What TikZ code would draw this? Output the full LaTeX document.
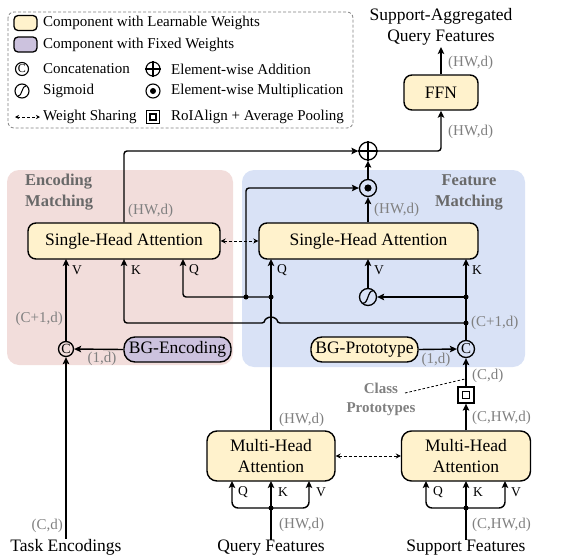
\documentclass[tikz,border=0pt]{standalone}
\usepackage{fontspec}
\setmainfont{Liberation Serif}
\usetikzlibrary{arrows.meta,calc}
\definecolor{learn}{RGB}{255,242,204}
\definecolor{fixedc}{RGB}{204,194,222}
\definecolor{pinkbg}{RGB}{242,221,219}
\definecolor{bluebg}{RGB}{217,226,246}
\definecolor{dimgray}{RGB}{128,128,128}
\definecolor{headgray}{RGB}{105,105,105}
\tikzset{
  box/.style={draw, line width=1.4pt, fill=learn, rounded corners=8pt, inner sep=0pt, align=center, font=\fontsize{17.5}{21}\selectfont},
  fixbox/.style={box, fill=fixedc},
  dim/.style={text=dimgray, inner sep=0pt, font=\fontsize{15}{17}\selectfont},
  qkv/.style={inner sep=0pt, anchor=west, font=\fontsize{13.5}{15}\selectfont},
  lgd/.style={inner sep=0pt, anchor=west, font=\fontsize{15}{17}\selectfont},
  big/.style={inner sep=0pt, align=center, font=\fontsize{17.5}{21}\selectfont},
  head/.style={inner sep=0pt, text=headgray, font=\bfseries\fontsize{16.5}{21}\selectfont},
  arr/.style={-{Stealth[length=7pt,width=6.5pt,inset=1.5pt]}, line width=1.4pt},
  ln/.style={line width=1.4pt},
  share/.style={{Stealth[length=5pt,width=5pt]}-{Stealth[length=5pt,width=5pt]}, dashed, dash pattern=on 3pt off 2pt, line width=0.9pt},
  opc/.style={circle, draw, line width=1.3pt, minimum size=16pt, inner sep=0pt},
  jn/.style={circle, fill=black, minimum size=5pt, inner sep=0pt},
}
\begin{document}
\begin{tikzpicture}[x=1pt,y=-1pt]
\useasboundingbox (0,0) rectangle (563,560);
% ---------- legend ----------
\draw[gray, dashed, dash pattern=on 3pt off 2pt, line width=0.8pt, rounded corners=6pt] (8,12) rectangle (353,128);
\node[draw, line width=1.3pt, fill=learn, rounded corners=4pt, minimum width=23pt, minimum height=15pt, inner sep=0pt] (sw1) at (25.5,23) {};
\node[lgd] (l1) at (43,23) {Component with Learnable Weights};
\node[draw, line width=1.3pt, fill=fixedc, rounded corners=4pt, minimum width=23pt, minimum height=15pt, inner sep=0pt] (sw2) at (25.5,44.5) {};
\node[lgd] (l2) at (43,44.5) {Component with Fixed Weights};
\node[opc, minimum size=13pt, line width=1.1pt, font=\fontsize{12}{12}\selectfont] (lc) at (22,69) {C};
\node[lgd] (l3) at (43,69) {Concatenation};
\node[opc, minimum size=14pt, line width=1.1pt] (lp) at (153,69) {};
\draw[line width=1.1pt] (lp.north) -- (lp.south) (lp.west) -- (lp.east);
\node[lgd] (l4) at (171,69) {Element-wise Addition};
\node[opc, minimum size=14pt, line width=1.1pt] (ls) at (22,91) {};
\draw[line width=1pt] ($(ls)+(-4,5)$) .. controls ($(ls)+(0,6)$) and ($(ls)+(0,-6)$) .. ($(ls)+(4,-5)$);
\node[lgd] (l5) at (43,91) {Sigmoid};
\node[opc, minimum size=14pt, line width=1.1pt] (ld) at (153,91) {};
\fill (ld) circle (3pt);
\node[lgd] (l6) at (171,91) {Element-wise Multiplication};
\coordinate (lsa) at (15,117);
\coordinate (lsb) at (40,117);
\draw[share, {Stealth[length=4pt,width=4pt]}-{Stealth[length=4pt,width=4pt]}] (lsa) -- (lsb);
\node[lgd] (l7) at (43,117) {Weight Sharing};
\node[draw, line width=1.1pt, minimum size=13pt, inner sep=0pt] (lq) at (153,117) {};
\node[draw, line width=1.1pt, minimum size=6pt, inner sep=0pt] at (lq) {};
\node[lgd] (l8) at (171,117) {RoIAlign + Average Pooling};
% ---------- backgrounds ----------
\fill[pinkbg, rounded corners=12pt] (7,170) rectangle (233,365);
\fill[bluebg, rounded corners=12pt] (242,170) rectangle (525,367);
\node[head, anchor=west, align=left] (hEnc) at (25,192.5) {Encoding\\Matching};
\node[head, align=center] (hFeat) at (469,192.5) {Feature\\Matching};
% ---------- boxes ----------
\node[box, minimum width=192pt, minimum height=36pt] (encSHA) at (124,241) {Single-Head Attention};
\node[box, minimum width=219pt, minimum height=36pt] (featSHA) at (368.5,241) {Single-Head Attention};
\node[box, minimum width=74pt, minimum height=35pt] (ffn) at (441,92.5) {FFN};
\node[box, rounded corners=10pt, minimum width=128pt, minimum height=50pt] (mhaq) at (271,456) {Multi-Head\\Attention};
\node[box, rounded corners=10pt, minimum width=129pt, minimum height=50pt] (mhas) at (466,456) {Multi-Head\\Attention};
\node[fixbox, rounded corners=11pt, minimum width=107pt, minimum height=25pt] (bgenc) at (177.5,349.5) {BG-Encoding};
\node[box, rounded corners=11pt, minimum width=107pt, minimum height=25pt] (bgpro) at (364.5,349.5) {BG-Prototype};
% ---------- operators ----------
\node[opc, minimum size=18pt] (plus) at (368,151) {};
\draw[line width=1.3pt] (plus.north) -- (plus.south) (plus.west) -- (plus.east);
\node[opc, minimum size=17pt] (dot) at (368,188) {};
\fill (dot) circle (3.6pt);
\node[opc, minimum size=17pt] (sig) at (368,297) {};
\draw[line width=1.2pt] ($(sig)+(-5,6)$) .. controls ($(sig)+(0,7.5)$) and ($(sig)+(0,-7.5)$) .. ($(sig)+(5,-6)$);
\node[opc, minimum size=15pt, font=\fontsize{14}{14}\selectfont] (cenc) at (66,349) {C};
\node[opc, minimum size=17pt, font=\fontsize{15}{15}\selectfont] (cfeat) at (466,349) {C};
\node[draw, line width=1.3pt, minimum size=16pt, inner sep=0pt] (pool) at (466,395) {};
\node[draw, line width=1.2pt, minimum size=7pt, inner sep=0pt] (poolin) at (pool) {};
% ---------- texts ----------
\node[big] (outTxt) at (441,27) {Support-Aggregated\\Query Features};
\coordinate (outEnd) at (441,47);
\node[big] (taskTxt) at (66,547) {Task Encodings};
\node[big] (queryTxt) at (271,548) {Query Features};
\node[big] (suppTxt) at (466,548) {Support Features};
\node[head, font=\bfseries\fontsize{15}{19}\selectfont, text=dimgray, align=center] (classTxt) at (381,399) {Class\\Prototypes};
% ---------- coordinates ----------
\coordinate (jQa) at (246,297);
\coordinate (jQb) at (271,297);
\coordinate (jK1) at (466,297);
\coordinate (jK2) at (466,323);
\coordinate (jQm) at (271,508);
\coordinate (jSm) at (466,508);
\coordinate (eQ) at (183,259);
\coordinate (eK) at (124,259);
\coordinate (eV) at (66,259);
\coordinate (fQ) at (271,259);
\coordinate (fV) at (368,259);
\coordinate (fK) at (466,259);
\coordinate (mqQ) at (232,481);
\coordinate (mqK) at (271,481);
\coordinate (mqV) at (309,481);
\coordinate (msQ) at (426,481);
\coordinate (msK) at (466,481);
\coordinate (msV) at (505,481);
\coordinate (cpEnd) at (465,379);
% ---------- connectors ----------
\draw[arr, rounded corners=3pt] (encSHA.north) |- (plus.west);
\draw[arr] (dot.north) -- (plus.south);
\draw[arr] (dot.south |- featSHA.north) -- (dot.south);
\draw[arr, rounded corners=3pt] (jQa) |- (dot.west);
\draw[arr, rounded corners=3pt] (plus.east) -| (ffn.south);
\draw[arr] (ffn.north) -- (outEnd);
\draw[share] (encSHA.east) -- (featSHA.west);
\draw[share] (mhaq.east) -- (mhas.west);
% query path
\draw[arr] (mhaq.north) -- (fQ);
\draw[arr, rounded corners=3pt] (jQb) -| (eQ);
\draw[arr] (sig.north) -- (fV);
\draw[arr] (jK1) -- (sig.east);
\draw[arr] (cfeat.north) -- (fK);
\draw[arr, rounded corners=3pt] (jK2) -- (277,323) arc[start angle=0, end angle=180, radius=6pt] -- (124,323) -- (eK);
\draw[arr] (cenc.north) -- (eV);
\draw[arr] (bgenc.west) -- (cenc.east);
\draw[arr] (bgpro.east) -- (cfeat.west);
\draw[arr] (taskTxt.north) -- (cenc.south);
\draw[arr] (mhas.north) -- (pool.south);
\draw[arr] (pool.north) -- (cfeat.south);
\draw[dashed, dash pattern=on 2.5pt off 2pt, line width=0.8pt] (405,393) -- (cpEnd);
% bottom inputs
\draw[ln] (queryTxt.north) -- (jQm);
\draw[arr] (jQm) -- (mqK);
\draw[arr, rounded corners=6pt] (jQm) -| (mqQ);
\draw[arr, rounded corners=6pt] (jQm) -| (mqV);
\draw[ln] (suppTxt.north) -- (jSm);
\draw[arr] (jSm) -- (msK);
\draw[arr, rounded corners=6pt] (jSm) -| (msQ);
\draw[arr, rounded corners=6pt] (jSm) -| (msV);
% junction dots
\foreach \p in {jQa,jQb,jK1,jK2,jQm,jSm} \node[jn] at (\p) {};
% ---------- labels ----------
\node[dim, anchor=west] at (448,63) {(HW,d)};
\node[dim, anchor=west] at (448,132) {(HW,d)};
\node[dim, anchor=west] at (128,211) {(HW,d)};
\node[dim, anchor=west] at (374,210) {(HW,d)};
\node[dim, anchor=east] at (63,319) {(C+1,d)};
\node[dim] at (102,359) {(1,d)};
\node[dim] at (436,360) {(1,d)};
\node[dim, anchor=west] at (471,323) {(C+1,d)};
\node[dim, anchor=west] at (472,376) {(C,d)};
\node[dim, anchor=west] at (279,420) {(HW,d)};
\node[dim, anchor=west] at (472,418) {(C,HW,d)};
\node[dim, anchor=west] at (279,525) {(HW,d)};
\node[dim, anchor=west] at (472,525) {(C,HW,d)};
\node[dim, anchor=east] at (63,526) {(C,d)};
\node[qkv] at (72,270) {V};
\node[qkv] at (131,270) {K};
\node[qkv] at (189,270) {Q};
\node[qkv] at (277,270) {Q};
\node[qkv] at (374,270) {V};
\node[qkv] at (472,270) {K};
\node[qkv] at (238,492) {Q};
\node[qkv] at (278,492) {K};
\node[qkv] at (316,492) {V};
\node[qkv] at (433,492) {Q};
\node[qkv] at (473,492) {K};
\node[qkv] at (511,492) {V};
\end{tikzpicture}
\end{document}
